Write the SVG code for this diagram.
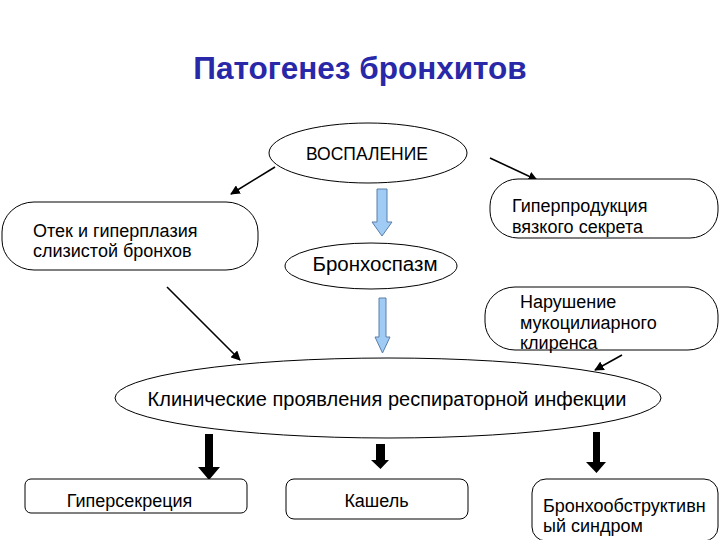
<svg xmlns="http://www.w3.org/2000/svg" width="720" height="540" viewBox="0 0 720 540">
<defs>
<style>
.t{font-family:"Liberation Sans",Arial,sans-serif;fill:#000}
.n{fill:#fff;stroke:#000;stroke-width:1}
.c{stroke:#000;stroke-width:1.6;fill:none;marker-end:url(#ah)}
.b{fill:#9fcbf5;stroke:#5a7fa8;stroke-width:1}
.k{fill:#000}
</style>
<marker id="ah" viewBox="0 0 10 10" refX="9" refY="5" markerWidth="6" markerHeight="6" orient="auto" markerUnits="strokeWidth">
<path d="M0,0 L10,5 L0,10 z" fill="#000"/>
</marker>
</defs>
<rect width="720" height="540" fill="#fff"/>
<text x="360" y="79" text-anchor="middle" font-family="Liberation Sans, Arial, sans-serif" font-weight="bold" font-size="31.5" fill="#2828a8">Патогенез бронхитов</text>

<g id="connectors">
<line class="c" x1="275" y1="167" x2="231" y2="194"/>
<line class="c" x1="490" y1="158" x2="537" y2="180"/>
<line class="c" x1="167" y1="287" x2="240" y2="360"/>
<line class="c" x1="622" y1="355" x2="595" y2="370"/>
<path class="b" d="M377,189 H387 V222 H392 L382,236 L372,222 H377 Z"/>
<path class="b" d="M379,298 H386 V337 H390 L382.5,353 L375,337 H379 Z"/>
<path class="k" d="M205,434 H213 V467 H220 L209,480 L198,467 H205 Z"/>
<path class="k" d="M376,444 H385 V460 H389 L380.5,469 L371,460 H376 Z"/>
<path class="k" d="M593,432 H600 V462 H606 L596.5,473 L586,462 H593 Z"/>
</g>

<g id="n-inflammation">
<ellipse class="n" cx="368" cy="153" rx="99" ry="30"/>
<text class="t" x="367" y="160" text-anchor="middle" font-size="17.5">ВОСПАЛЕНИЕ</text>
</g>

<g id="n-edema">
<rect class="n" x="2" y="202" width="256" height="68" rx="32" ry="30"/>
<text class="t" x="33" y="237" font-size="18">Отек и гиперплазия</text>
<text class="t" x="33" y="257" font-size="18">слизистой бронхов</text>
</g>

<g id="n-hyperproduction">
<rect class="n" x="490" y="179" width="228" height="59" rx="28" ry="27"/>
<text class="t" x="512" y="212" font-size="18">Гиперпродукция</text>
<text class="t" x="512" y="233" font-size="18">вязкого секрета</text>
</g>

<g id="n-bronchospasm">
<ellipse class="n" cx="371" cy="266" rx="86" ry="23"/>
<text class="t" x="375" y="271" text-anchor="middle" font-size="20.5">Бронхоспазм</text>
</g>

<g id="n-mucociliary">
<rect class="n" x="485" y="287" width="233" height="63" rx="30" ry="28"/>
<text class="t" x="520" y="308" font-size="18">Нарушение</text>
<text class="t" x="520" y="329" font-size="18">мукоцилиарного</text>
<text class="t" x="520" y="349" font-size="18">клиренса</text>
</g>

<g id="n-clinical">
<ellipse class="n" cx="388" cy="398" rx="273" ry="40"/>
<text class="t" x="387" y="406" text-anchor="middle" font-size="20">Клинические проявления респираторной инфекции</text>
</g>

<g id="n-hypersecretion">
<rect class="n" x="25" y="479" width="222" height="34" rx="6"/>
<text class="t" x="129.5" y="507" text-anchor="middle" font-size="18">Гиперсекреция</text>
</g>

<g id="n-cough">
<rect class="n" x="286" y="479" width="182" height="40" rx="8"/>
<text class="t" x="376.5" y="507" text-anchor="middle" font-size="18">Кашель</text>
</g>

<g id="n-obstruction">
<rect class="n" x="532" y="479" width="186" height="62" rx="14"/>
<text class="t" x="543" y="512" font-size="18">Бронхообструктивн</text>
<text class="t" x="543" y="532" font-size="18">ый синдром</text>
</g>
</svg>
